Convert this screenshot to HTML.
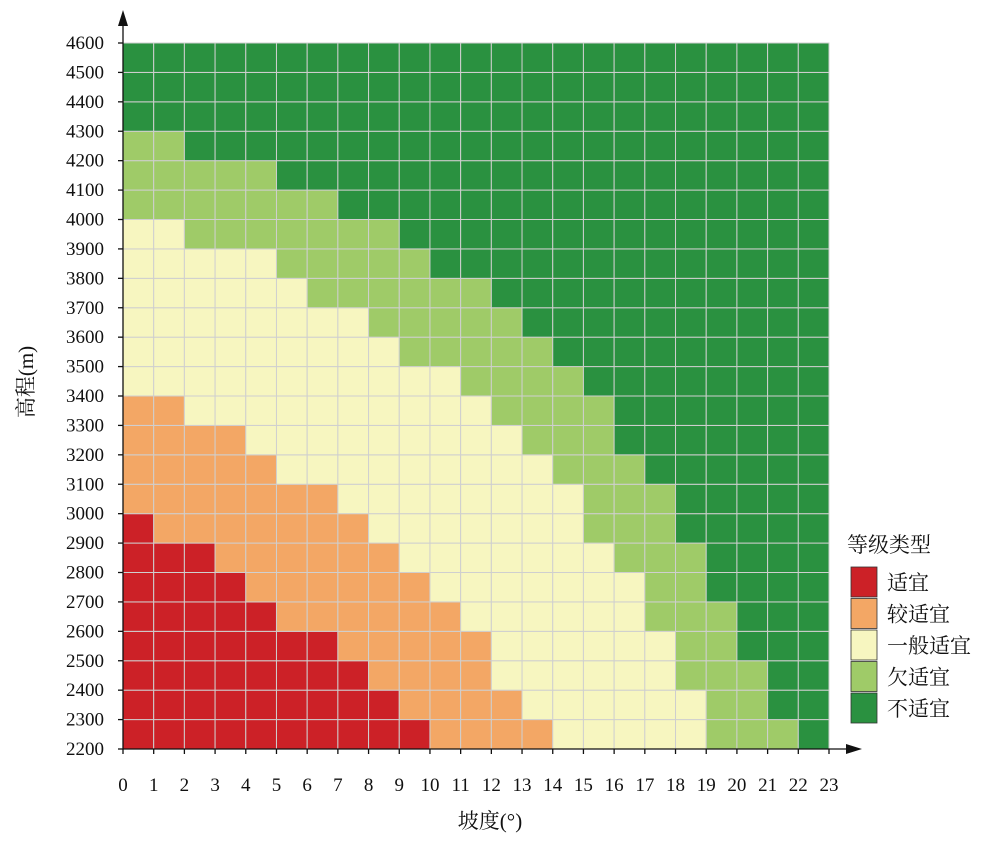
<!DOCTYPE html>
<html><head><meta charset="utf-8"><style>
body{margin:0;background:#fff}
svg text{font-family:"Liberation Serif","Noto Serif CJK SC",serif;fill:#111}
</style></head><body>
<svg id="c" width="1000" height="845"></svg>
<script>
const xTicks=[0,1,2,3,4,5,6,7,8,9,10,11,12,13,14,15,16,17,18,19,20,21,22,23];
const yTicks=[2200,2300,2400,2500,2600,2700,2800,2900,3000,3100,3200,3300,3400,3500,3600,3700,3800,3900,4000,4100,4200,4300,4400,4500,4600];
const classNames=["适宜","较适宜","一般适宜","欠适宜","不适宜"];
const classColors=["#cc2127","#f3a765","#f7f6c0","#9fcb68","#2a9140"];
// each row: run lengths of class 0..4 (bottom row = 2200-2300)
const rowRuns=[
[10,4,5,3,1],[9,4,6,2,2],[8,4,6,3,2],[7,5,6,2,3],[5,6,6,3,3],[4,6,7,2,4],
[3,6,7,3,4],[1,7,7,3,5],[0,7,8,3,5],[0,5,9,3,6],[0,4,9,3,7],[0,2,10,4,7],
[0,0,11,4,8],[0,0,9,5,9],[0,0,8,5,10],[0,0,6,6,11],[0,0,5,5,13],[0,0,2,7,14],
[0,0,0,7,16],[0,0,0,5,18],[0,0,0,2,21],[0,0,0,0,23],[0,0,0,0,23],[0,0,0,0,23]];
const svg=document.getElementById('c');const NS='http://www.w3.org/2000/svg';
function mk(t,a,p){const e=document.createElementNS(NS,t);for(const k in a)e.setAttribute(k,a[k]);(p||svg).appendChild(e);return e;}
const X0=123,X1=829,Y0=749,Y1=43;
const sx=v=>X0+(v-xTicks[0])/(xTicks[xTicks.length-1]-xTicks[0])*(X1-X0);
const sy=v=>Y0-(v-yTicks[0])/(yTicks[yTicks.length-1]-yTicks[0])*(Y0-Y1);
const g=mk('g',{});


rowRuns.forEach((runs,r)=>{let c=0;runs.forEach((n,k)=>{for(let i=0;i<n;i++){
const rc=mk('rect',{x:sx(c),y:sy(yTicks[r+1]),width:sx(c+1)-sx(c),height:sy(yTicks[r])-sy(yTicks[r+1]),fill:classColors[k],stroke:'#cfcfcf','stroke-width':1},g);

c++;}});});
// axes
const ax=mk('g',{stroke:'#111','stroke-width':1.3,fill:'none'});


mk('line',{x1:X0,y1:Y0,x2:X0,y2:18},ax);mk('line',{x1:X0,y1:Y0,x2:852,y2:Y0},ax);
mk('path',{d:'M118,26 L123,10 L128,26 Z',fill:'#111',stroke:'none'});
mk('path',{d:'M846,744 L862,749 L846,754 Z',fill:'#111',stroke:'none'});
xTicks.forEach(v=>{mk('line',{x1:sx(v),y1:Y0,x2:sx(v),y2:Y0+5},ax);
const t=mk('text',{x:sx(v),y:791,'text-anchor':'middle','font-size':19});t.textContent=v;

});
yTicks.forEach(v=>{mk('line',{x1:X0-5,y1:sy(v),x2:X0,y2:sy(v)},ax);
const t=mk('text',{x:104,y:sy(v)+6,'text-anchor':'end','font-size':19});t.textContent=v;

});
const xt=mk('text',{x:490,y:828,'text-anchor':'middle','font-size':21});xt.textContent='坡度(°)';


const yt=mk('text',{x:0,y:0,'text-anchor':'middle','font-size':21,transform:'translate(33,382) rotate(-90)'});yt.textContent='高程(m)';


const lt=mk('text',{x:847,y:552,'font-size':21});lt.textContent='等级类型';


classNames.forEach((n,i)=>{const y=567+i*31.5;
const r=mk('rect',{x:851,y:y,width:26,height:30,fill:classColors[i],stroke:'#333','stroke-width':0.8});


const t=mk('text',{x:887,y:y+23,'font-size':21});t.textContent=n;

});
</script>
</body></html>
